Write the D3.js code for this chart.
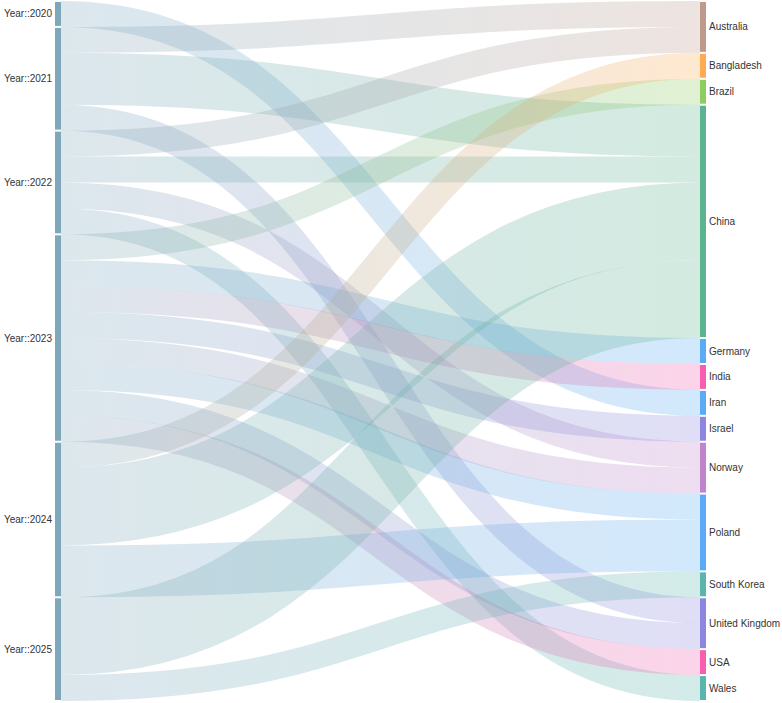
<!DOCTYPE html>
<html>
<head>
<meta charset="utf-8">
<script src="https://cdn.jsdelivr.net/npm/d3@7"></script>
<style>
  html, body { margin: 0; padding: 0; background: #fff; }
  svg { display: block; font-family: "Liberation Sans", Arial, Helvetica, sans-serif; }
</style>
</head>
<body>
<svg id="chart" width="782" height="703"></svg>
<script>
// ---- data ----
const sourceNodes = ["Year::2020", "Year::2021", "Year::2022", "Year::2023", "Year::2024", "Year::2025"];
const targetNodes = ["Australia", "Bangladesh", "Brazil", "China", "Germany", "India", "Iran", "Israel",
                     "Norway", "Poland", "South Korea", "United Kingdom", "USA", "Wales"];
const linkSource = ["Year::2020",
  "Year::2021", "Year::2021", "Year::2021",
  "Year::2022", "Year::2022", "Year::2022", "Year::2022",
  "Year::2023", "Year::2023", "Year::2023", "Year::2023", "Year::2023", "Year::2023", "Year::2023", "Year::2023",
  "Year::2024", "Year::2024", "Year::2024",
  "Year::2025", "Year::2025"];
const linkTarget = ["Iran",
  "Australia", "China", "United Kingdom",
  "Australia", "China", "Norway", "Wales",
  "Brazil", "Germany", "India", "Israel", "Norway", "Poland", "United Kingdom", "USA",
  "Bangladesh", "China", "Poland",
  "China", "South Korea"];
const linkValue = [1,
  1, 2, 1,
  1, 1, 1, 1,
  1, 1, 1, 1, 1, 1, 1, 1,
  1, 3, 2,
  3, 1];
const yearColor = "#7ea7bc";
const targetColors = ["#bd9a8c", "#ffab52", "#8dcc5e", "#5cb38f", "#5aaaf5", "#f55fae", "#5aaaf5", "#8c86de",
                      "#bf84c9", "#5aaaf5", "#5bb5ae", "#8c86de", "#f55fae", "#5bb5ae"];

// ---- layout ----
const svg = d3.select("#chart");
const colX = d3.scaleOrdinal().domain([0, 1]).range([55, 700]);
const nodeW = 6;

const nodes = [];
sourceNodes.forEach(n => nodes.push({name: n, col: 0, color: yearColor}));
targetNodes.forEach((n, i) => nodes.push({name: n, col: 1, color: targetColors[i]}));
const byName = new Map(nodes.map(n => [n.name, n]));
const links = linkSource.map((s, i) => ({source: byName.get(s), target: byName.get(linkTarget[i]), value: linkValue[i]}));

nodes.forEach(n => { n.out = []; n.in = []; n.value = 0; });
links.forEach(l => { l.source.out.push(l); l.target.in.push(l); });
nodes.forEach(n => { n.value = Math.max(d3.sum(n.out, l => l.value), d3.sum(n.in, l => l.value)); });

const total = d3.sum(nodes.filter(n => n.col === 0), n => n.value);
const y = d3.scaleLinear().domain([0, total]).range([1, 701]);

[0, 1].forEach(c => {
  let acc = 0;
  nodes.filter(n => n.col === c).forEach((n, i) => {
    n.x0 = colX(c); n.x1 = n.x0 + nodeW;
    n.v0 = acc; acc += n.value; n.v1 = acc;
    n.y0 = y(n.v0); n.y1 = y(n.v1);
    n.order = i;
  });
});
nodes.forEach(n => {
  let a = n.v0;
  n.out.sort((p, q) => p.target.order - q.target.order).forEach(l => { l.ys = y(a + l.value / 2); a += l.value; });
  let b = n.v0;
  n.in.sort((p, q) => p.source.order - q.source.order).forEach(l => { l.yt = y(b + l.value / 2); b += l.value; });
});
links.forEach(l => { l.width = y(l.value) - y(0); });

// ---- gradients ----
const defs = svg.append("defs");
links.forEach((l, i) => {
  const g = defs.append("linearGradient")
    .attr("id", "lg" + i)
    .attr("gradientUnits", "userSpaceOnUse")
    .attr("x1", l.source.x1).attr("x2", l.target.x0);
  g.append("stop").attr("offset", "0%").attr("stop-color", l.source.color);
  g.append("stop").attr("offset", "100%").attr("stop-color", l.target.color);
});

// ---- links ----
const linkGen = d3.linkHorizontal().x(d => d[0]).y(d => d[1]);
svg.append("g")
  .attr("fill", "none")
  .selectAll("path")
  .data(links)
  .join("path")
  .attr("d", l => linkGen({source: [l.source.x1, l.ys], target: [l.target.x0, l.yt]}))
  .attr("stroke", (l, i) => `url(#lg${i})`)
  .attr("stroke-opacity", 0.27)
  .attr("stroke-width", l => l.width);

// ---- nodes ----
svg.append("g")
  .selectAll("rect")
  .data(nodes)
  .join("rect")
  .attr("x", n => n.x0)
  .attr("y", n => n.y0 + 1)
  .attr("width", nodeW)
  .attr("height", n => Math.max(0, n.y1 - n.y0 - 2))
  .attr("fill", n => n.color);

// ---- labels ----
svg.append("g")
  .attr("font-size", 10)
  .attr("fill", "#333")
  .selectAll("text")
  .data(nodes)
  .join("text")
  .attr("x", n => n.col === 0 ? n.x0 - 3 : n.x1 + 3)
  .attr("y", n => (n.y0 + n.y1) / 2)
  .attr("dy", "0.35em")
  .attr("text-anchor", n => n.col === 0 ? "end" : "start")
  .text(n => n.name);
</script>
</body>
</html>
